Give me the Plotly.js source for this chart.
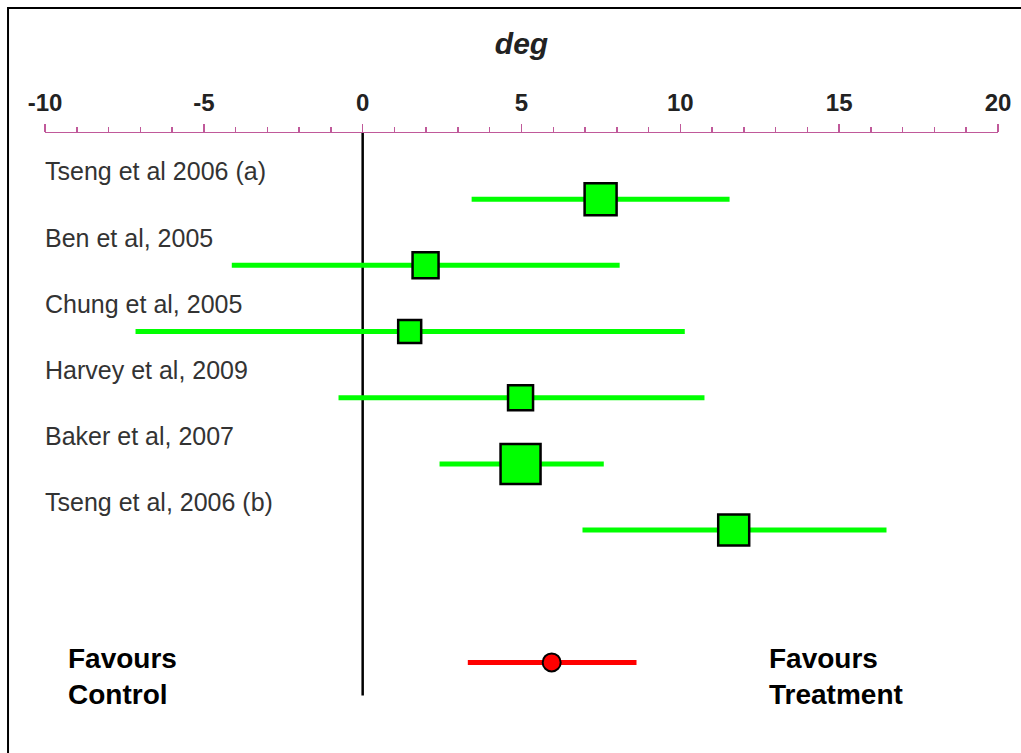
<!DOCTYPE html>
<html>
<head>
<meta charset="utf-8">
<script src="https://cdn.plot.ly/plotly-3.0.1.min.js"></script>
<style>html,body{margin:0;padding:0;background:#fff;}#chart{width:1021px;height:753px;}</style>
</head>
<body>
<div id="chart"></div>
<script>
// ---- data ----
var studies = ["Tseng et al 2006 (a)", "Ben et al, 2005", "Chung et al, 2005", "Harvey et al, 2009", "Baker et al, 2007", "Tseng et al, 2006 (b)"];
var estimate = [7.49, 1.98, 1.48, 4.97, 4.97, 11.68];
var lower = [3.43, -4.12, -7.15, -0.76, 2.42, 6.92];
var upper = [11.55, 8.09, 10.14, 10.76, 7.59, 16.49];
var pooledEstimate = [5.95];
var pooledLower = [3.31];
var pooledUpper = [8.62];
var xTicks = [-10, -5, 0, 5, 10, 15, 20];
var xTickLabels = ["-10", "-5", "0", "5", "10", "15", "20"];
var axisTitle = "deg";

// ---- styles ----
var markerSizes = [32, 26, 23, 25, 40, 31];
var font = "Liberation Sans, Arial, sans-serif";
var pink = "#c0599a";

var rows = studies.map(function (s, i) { return i; });
var pooledRow = [studies.length + 1];

var studyTrace = {
  type: "scatter", mode: "markers", opacity: 1,
  x: estimate, y: rows,
  marker: { symbol: "square", size: markerSizes, color: "#00ff00", opacity: 1, line: { color: "#000", width: 2.5 } },
  error_x: {
    type: "data", symmetric: false,
    array: estimate.map(function (e, i) { return upper[i] - e; }),
    arrayminus: estimate.map(function (e, i) { return e - lower[i]; }),
    color: "#00ff00", thickness: 5, width: 0
  },
  hoverinfo: "skip", showlegend: false
};

var pooledTrace = {
  type: "scatter", mode: "markers", opacity: 1,
  x: pooledEstimate, y: pooledRow,
  marker: { symbol: "circle", size: 18, color: "#ff0000", opacity: 1, line: { color: "#000", width: 2 } },
  error_x: {
    type: "data", symmetric: false,
    array: pooledEstimate.map(function (e, i) { return pooledUpper[i] - e; }),
    arrayminus: pooledEstimate.map(function (e, i) { return e - pooledLower[i]; }),
    color: "#ff0000", thickness: 5, width: 0
  },
  hoverinfo: "skip", showlegend: false
};

var annotations = studies.map(function (s, i) {
  return {
    text: s, xref: "paper", yref: "y", x: 0, xshift: -2, y: i - 0.42,
    xanchor: "left", yanchor: "middle", showarrow: false,
    font: { family: font, size: 25, color: "#333" }
  };
});
annotations.push({
  text: "Favours<br>Control", xref: "paper", yref: "y", x: 0.022, y: pooledRow[0] + 0.22,
  xanchor: "left", yanchor: "middle", align: "left", showarrow: false,
  font: { family: font, size: 28, color: "#000", weight: "bold" }
});
annotations.push({
  text: "Favours<br>Treatment", xref: "paper", yref: "y", x: 0.7576, y: pooledRow[0] + 0.22,
  xanchor: "left", yanchor: "middle", align: "left", showarrow: false,
  font: { family: font, size: 28, color: "#000", weight: "bold" }
});

var layout = {
  width: 1021, height: 753,
  margin: { l: 45, r: 23, t: 133, b: 0 },
  paper_bgcolor: "#fff", plot_bgcolor: "#fff",
  xaxis: {
    side: "top", range: [-10, 20], tickmode: "array", tickvals: xTicks, ticktext: xTickLabels,
    ticks: "outside", ticklen: 8, tickwidth: 1.5, tickcolor: pink,
    showline: true, linecolor: pink, linewidth: 1.5,
    minor: { dtick: 1, ticks: "outside", ticklen: 5, tickwidth: 1.5, tickcolor: pink },
    showgrid: false, zeroline: false,
    tickfont: { family: font, size: 24, color: "#222", weight: "bold" },
    ticklabelstandoff: 3,
    title: { text: axisTitle, standoff: 25, font: { family: font, size: 30, color: "#222", weight: "bold", style: "italic" } },
    fixedrange: true
  },
  yaxis: {
    range: [8.369, -1], showticklabels: false, ticks: "", showgrid: false,
    zeroline: false, showline: false, fixedrange: true
  },
  shapes: [
    { type: "line", xref: "x", yref: "y", x0: 0, x1: 0, y0: -1, y1: 7.5, line: { color: "#000", width: 2.5 }, layer: "below" },
    { type: "rect", xref: "paper", yref: "paper", x0: -0.0388, x1: 1.2, y0: -0.2, y1: 1.2016, line: { color: "#000", width: 2 }, fillcolor: "rgba(0,0,0,0)" }
  ],
  annotations: annotations
};

Plotly.newPlot("chart", [studyTrace, pooledTrace], layout, { displayModeBar: false, staticPlot: true });
</script>
</body>
</html>
